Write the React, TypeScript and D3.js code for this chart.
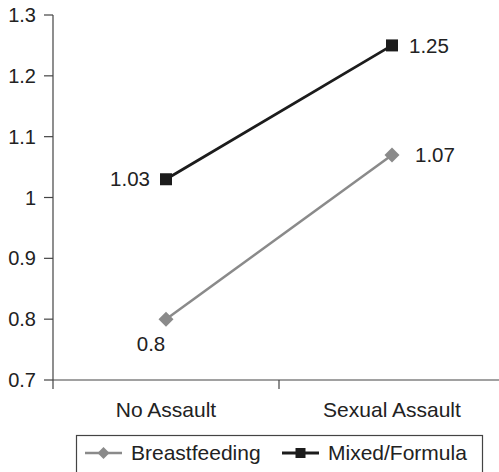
import React from "react";
import * as d3 from "d3";

const categories = ["No Assault", "Sexual Assault"];
const breastfeeding = [0.8, 1.07];
const mixedFormula = [1.03, 1.25];
const yTicks = [0.7, 0.8, 0.9, 1, 1.1, 1.2, 1.3];
const seriesNames = ["Breastfeeding", "Mixed/Formula"];

const W = 499;
const H = 472;
const FONT = "'Liberation Sans', Arial, Helvetica, sans-serif";

export default function App() {
  const x = d3.scaleBand<string>().domain(categories).range([53, 505]);
  const y = d3.scaleLinear().domain([0.7, 1.3]).range([380, 15]);
  const cx = (c: string) => (x(c) as number) + x.bandwidth() / 2;
  const line = d3
    .line<number>()
    .x((_, i) => cx(categories[i]))
    .y((d) => y(d));

  const grey = "#8a8a8a";
  const black = "#1c1c1c";
  const axisCol = "#444";

  const diamond = (px: number, py: number, r: number, fill: string, key?: string) => (
    <path
      key={key}
      d={`M${px},${py - r}L${px + r},${py}L${px},${py + r}L${px - r},${py}Z`}
      fill={fill}
    />
  );
  const square = (px: number, py: number, s: number, fill: string, key?: string) => (
    <rect key={key} x={px - s / 2} y={py - s / 2} width={s} height={s} fill={fill} />
  );

  return (
    <svg
      width={W}
      height={H}
      style={{ position: "absolute", left: 0, top: 0, background: "#fff" }}
      fontFamily={FONT}
    >
      {/* y axis */}
      <line x1={53} x2={53} y1={y(1.3)} y2={389} stroke={axisCol} strokeWidth={1.2} />
      {yTicks.map((t) => (
        <g key={t}>
          <line x1={44} x2={53} y1={y(t)} y2={y(t)} stroke={axisCol} strokeWidth={1.2} />
          <text
            x={36}
            y={y(t)}
            dy="0.35em"
            textAnchor="end"
            fontSize={20}
            fill="#222"
          >
            {d3.format("")(t)}
          </text>
        </g>
      ))}
      {/* x axis */}
      <line x1={53} x2={W} y1={380} y2={380} stroke={axisCol} strokeWidth={1.2} />
      {categories.slice(1).map((c) => (
        <line
          key={c}
          x1={x(c) as number}
          x2={x(c) as number}
          y1={380}
          y2={389}
          stroke={axisCol}
          strokeWidth={1.2}
        />
      ))}
      {categories.map((c) => (
        <text key={c} x={cx(c)} y={417} textAnchor="middle" fontSize={21} fill="#222">
          {c}
        </text>
      ))}

      {/* series lines */}
      <path d={line(breastfeeding) || ""} fill="none" stroke={grey} strokeWidth={2.5} />
      <path d={line(mixedFormula) || ""} fill="none" stroke={black} strokeWidth={2.8} />
      {breastfeeding.map((v, i) => diamond(cx(categories[i]), y(v), 7.5, grey, "b" + i))}
      {mixedFormula.map((v, i) => square(cx(categories[i]), y(v), 12, black, "m" + i))}

      {/* value labels */}
      <text x={cx(categories[0]) - 16} y={y(mixedFormula[0])} dy="0.35em" textAnchor="end" fontSize={20.5} fill="#222">
        {mixedFormula[0]}
      </text>
      <text x={cx(categories[1]) + 17} y={y(mixedFormula[1])} dy="0.35em" textAnchor="start" fontSize={20.5} fill="#222">
        {mixedFormula[1]}
      </text>
      <text x={cx(categories[0]) - 15} y={y(breastfeeding[0]) + 25} dy="0.35em" textAnchor="middle" fontSize={20.5} fill="#222">
        {breastfeeding[0]}
      </text>
      <text x={cx(categories[1]) + 23} y={y(breastfeeding[1])} dy="0.35em" textAnchor="start" fontSize={20.5} fill="#222">
        {breastfeeding[1]}
      </text>

      {/* legend */}
      <rect x={76.5} y={435.5} width={406} height={45} fill="#fff" stroke={axisCol} strokeWidth={1.2} />
      <line x1={85} x2={122} y1={453} y2={453} stroke={grey} strokeWidth={2.5} />
      {diamond(103.5, 453, 6, grey)}
      <text x={131} y={453} dy="0.35em" fontSize={21} fill="#222">
        {seriesNames[0]}
      </text>
      <line x1={282} x2={319} y1={453} y2={453} stroke={black} strokeWidth={2.8} />
      {square(300.5, 453, 10, black)}
      <text x={328} y={453} dy="0.35em" fontSize={21} fill="#222">
        {seriesNames[1]}
      </text>
    </svg>
  );
}
